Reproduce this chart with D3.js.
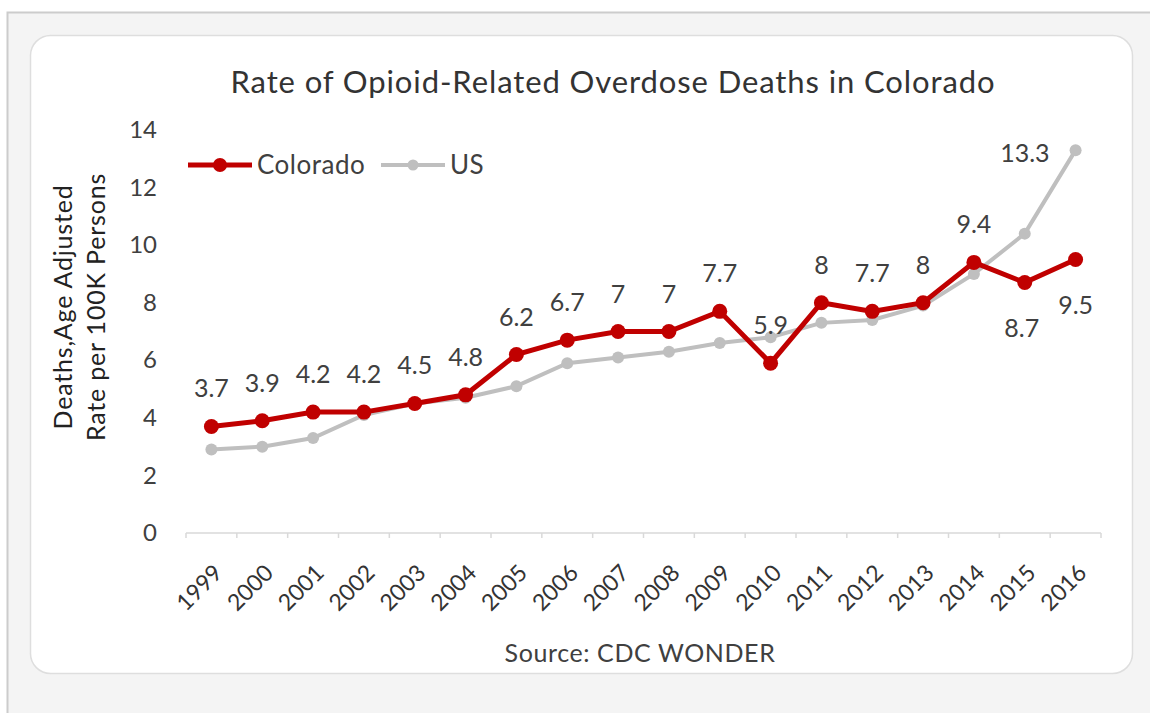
<!DOCTYPE html>
<html>
<head>
<meta charset="utf-8">
<script src="https://cdn.jsdelivr.net/npm/d3@7"></script>
<style>
  body { margin: 0; background: #fff; }
  svg text { font-family: Lato, "Open Sans", sans-serif; }
</style>
</head>
<body>
<svg id="chart" width="1150" height="713"></svg>
<script>

let years = ["1999","2000","2001","2002","2003","2004","2005","2006","2007","2008","2009","2010","2011","2012","2013","2014","2015","2016"];
let colorado = [3.7,3.9,4.2,4.2,4.5,4.8,6.2,6.7,7,7,7.7,5.9,8,7.7,8,9.4,8.7,9.5];
let us = [2.9,3.0,3.3,4.1,4.5,4.7,5.1,5.9,6.1,6.3,6.6,6.8,7.3,7.4,7.9,9.0,10.4,13.3];
let yTicks = [0,2,4,6,8,10,12,14];
let seriesNames = ["Colorado","US"];

let svg = d3.select("svg#chart");
let red = "#c00000";
let grey = "#bfbfbf";
let textCol = "#404040";

// page frame
svg.append("rect")
  .attr("x", 7.5).attr("y", 12.5)
  .attr("width", 1150).attr("height", 720)
  .attr("fill", "#f4f4f4")
  .attr("stroke", "#cccccc").attr("stroke-width", 2);

// chart box
svg.append("rect")
  .attr("x", 30.5).attr("y", 35.5)
  .attr("width", 1102).attr("height", 638)
  .attr("rx", 20).attr("ry", 20)
  .attr("fill", "#ffffff")
  .attr("stroke", "#dedede").attr("stroke-width", 1.5);

let margin = {"top": 130, "left": 186, "right": 1101, "bottom": 533};

let xScale = d3.scaleBand().domain(years).range([margin.left, margin.right]);
let yScale = d3.scaleLinear().domain([0, 14]).range([margin.bottom, margin.top]);
let cx = function(d) { return xScale(d) + xScale.bandwidth() / 2; };

// title
svg.append("text")
  .attr("x", 613).attr("y", 93)
  .attr("text-anchor", "middle")
  .attr("font-size", 31)
  .attr("letter-spacing", 0.9)
  .attr("fill", "#333")
  .text("Rate of Opioid-Related Overdose Deaths in Colorado");

// y axis
let yAxis = svg.append("g")
  .attr("transform", "translate(" + margin.left + ",0)")
  .call(d3.axisLeft(yScale).tickValues(yTicks).tickSize(0).tickPadding(29));
yAxis.select(".domain").remove();
yAxis.selectAll("text").attr("font-size", 24).attr("fill", textCol).attr("font-family", "Lato");

// x axis line + ticks between categories
svg.append("line")
  .attr("x1", margin.left).attr("x2", margin.right)
  .attr("y1", yScale(0)).attr("y2", yScale(0))
  .attr("stroke", "#d9d9d9").attr("stroke-width", 1.5);
svg.selectAll("line.xtick")
  .data(years.concat(["end"]))
  .enter().append("line")
  .attr("class", "xtick")
  .attr("x1", d => d == "end" ? margin.right : xScale(d))
  .attr("x2", d => d == "end" ? margin.right : xScale(d))
  .attr("y1", yScale(0)).attr("y2", yScale(0) + 5)
  .attr("stroke", "#d9d9d9").attr("stroke-width", 1.5);

svg.selectAll("text.xlab")
  .data(years)
  .enter().append("text")
  .attr("class", "xlab")
  .attr("transform", d => "translate(" + (cx(d) + 1) + "," + (yScale(0) + 30) + ") rotate(-45)")
  .attr("text-anchor", "end")
  .attr("dy", "0.7em")
  .attr("font-size", 23)
  .attr("fill", "#333")
  .text(d => d);

// y axis title
let yTitle = svg.append("text")
  .attr("transform", "translate(72,307) rotate(-90)")
  .attr("text-anchor", "middle")
  .attr("font-size", 25)
  .attr("letter-spacing", 0.8)
  .attr("fill", "#222");
yTitle.append("tspan").attr("x", 0).attr("dy", 0).text("Deaths,Age Adjusted");
yTitle.append("tspan").attr("x", 0).attr("dy", 33).text("Rate per 100K Persons");

// source
svg.append("text")
  .attr("x", 640).attr("y", 662)
  .attr("text-anchor", "middle")
  .attr("font-size", 25)
  .attr("letter-spacing", 0.6)
  .attr("fill", textCol)
  .text("Source: CDC WONDER");

let line = d3.line().x((d, i) => cx(years[i])).y(d => yScale(d));

// US series
svg.append("path")
  .datum(us)
  .attr("d", line)
  .attr("fill", "none")
  .attr("stroke", grey)
  .attr("stroke-width", 4);
svg.selectAll("circle.us")
  .data(us)
  .enter().append("circle")
  .attr("class", "us")
  .attr("cx", (d, i) => cx(years[i]))
  .attr("cy", d => yScale(d))
  .attr("r", 6)
  .attr("fill", grey);

// Colorado series
svg.append("path")
  .datum(colorado)
  .attr("d", line)
  .attr("fill", "none")
  .attr("stroke", red)
  .attr("stroke-width", 5);
svg.selectAll("circle.co")
  .data(colorado)
  .enter().append("circle")
  .attr("class", "co")
  .attr("cx", (d, i) => cx(years[i]))
  .attr("cy", d => yScale(d))
  .attr("r", 7.5)
  .attr("fill", red);

// data labels
let below = ["2015", "2016"];
svg.selectAll("text.colab")
  .data(colorado)
  .enter().append("text")
  .attr("class", "colab")
  .attr("x", (d, i) => cx(years[i]) + (years[i] == "2015" ? -3 : 0))
  .attr("y", (d, i) => yScale(d) + (below.indexOf(years[i]) >= 0 ? 54 : -29))
  .attr("text-anchor", "middle")
  .attr("font-size", 25)
  .attr("fill", textCol)
  .text(d => d);

let last = us.length - 1;
svg.append("text")
  .attr("x", cx(years[last]) - 26)
  .attr("y", yScale(us[last]) + 12)
  .attr("text-anchor", "end")
  .attr("font-size", 25)
  .attr("fill", textCol)
  .text(us[last]);

// legend
let legend = svg.append("g").attr("transform", "translate(188,165)");
let legColors = [red, grey];
let legX = [0, 193];
seriesNames.forEach(function(name, i) {
  let g = legend.append("g").attr("transform", "translate(" + legX[i] + ",0)");
  g.append("line").attr("x1", 0).attr("x2", 64).attr("y1", 0).attr("y2", 0)
    .attr("stroke", legColors[i]).attr("stroke-width", i == 0 ? 5 : 4);
  g.append("circle").attr("cx", 32).attr("cy", 0).attr("r", i == 0 ? 7 : 5.5).attr("fill", legColors[i]);
  g.append("text").attr("x", 69).attr("y", 9)
    .attr("font-size", 26).attr("letter-spacing", 0.5).attr("fill", textCol).text(name);
});

</script>
</body>
</html>
